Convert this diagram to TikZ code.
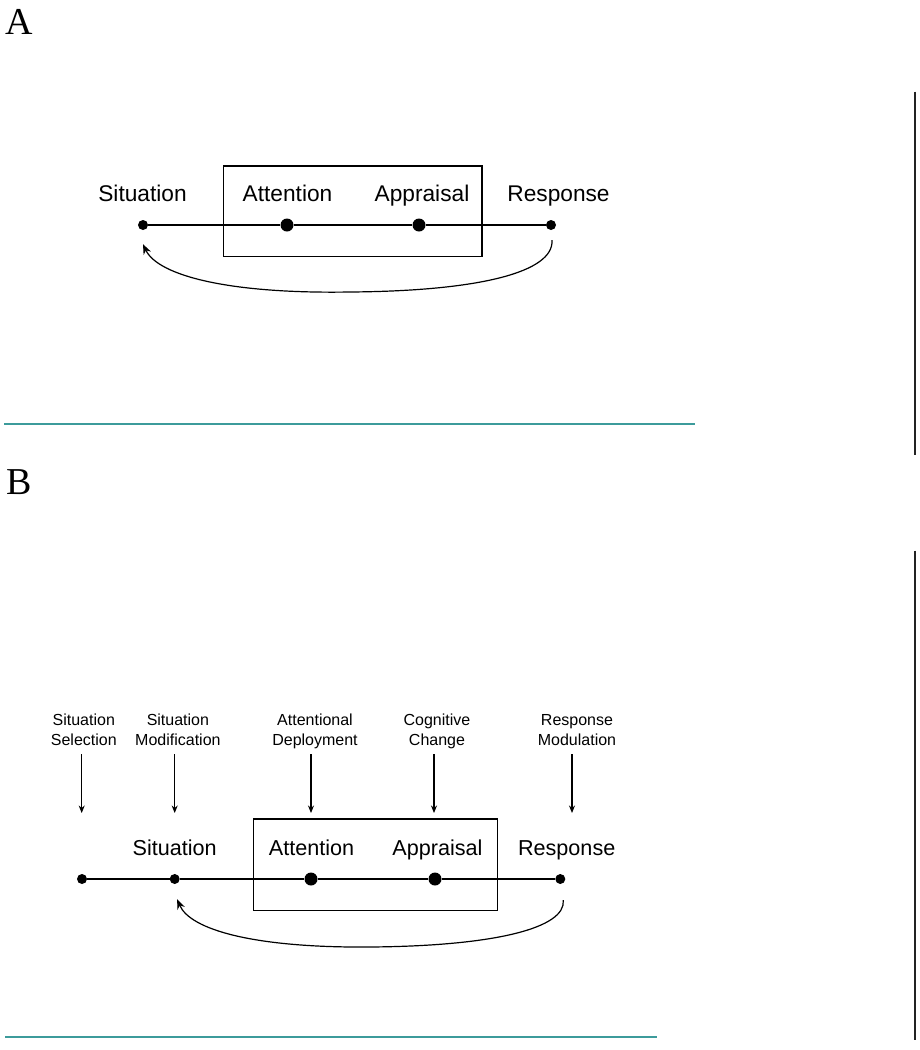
\documentclass[tikz,border=0pt]{standalone}
\usepackage{fontspec}
\setmainfont{Liberation Serif}
\newfontfamily\arialf{Liberation Sans}
\usetikzlibrary{arrows.meta}
\definecolor{tealln}{RGB}{60,155,155}
\definecolor{darkln}{RGB}{35,35,35}
\tikzset{
  dotS/.style={circle,fill=black,inner sep=0pt,minimum size=10pt},
  dotL/.style={circle,fill=black,inner sep=0pt,minimum size=13pt},
  lblA/.style={inner sep=0pt,anchor=base,font=\arialf\fontsize{22.7}{27}\selectfont},
  lblB/.style={inner sep=0pt,anchor=base,font=\arialf\fontsize{21.6}{26}\selectfont},
  lblT/.style={inner sep=0pt,anchor=base,align=center,font=\arialf\fontsize{16}{19.3}\selectfont},
  panel/.style={inner sep=0pt,anchor=base west,font=\fontsize{38}{40}\selectfont},
  mainline/.style={line width=1.5pt},
  boxln/.style={line width=1.2pt},
  fb/.style={line width=1.2pt,-{Stealth[length=10pt,width=8pt]}},
  downarr/.style={line width=1.1pt,-{Stealth[length=7.5pt,width=6pt]}},
  tealsep/.style={draw=tealln,line width=2pt},
  vsep/.style={draw=darkln,line width=2.2pt}
}
\begin{document}
\begin{tikzpicture}[x=1pt,y=-1pt]
\useasboundingbox (0,0) rectangle (919,1050);
% ---------------- Panel A ----------------
\node[panel] (labA) at (5,34.3) {A};
\draw[boxln] (223.3,166) rectangle (482,256.7);
\node[dotS] (sA) at (143,225) {};
\node[dotL] (aA) at (287,225) {};
\node[dotL] (pA) at (419,225) {};
\node[dotS] (rA) at (551,225) {};
\draw[mainline] (sA) -- (aA) -- (pA) -- (rA);
\node[lblA] (tsA) at (142.5,201.3) {Situation};
\node[lblA] (taA) at (287.5,201.3) {Attention};
\node[lblA] (tpA) at (422,201.3) {Appraisal};
\node[lblA] (trA) at (558.5,201.3) {Response};
\draw[fb] ([xshift=1pt,yshift=-10pt]rA.south) .. controls (554,272) and (480,291) .. (350,292)
   .. controls (230,294) and (158,276) .. ([yshift=-14pt]sA.south);
\coordinate (vAt) at (914.7,91.7);
\coordinate (vAb) at (914.7,455);
\draw[vsep] (vAt) -- (vAb);
\coordinate (hAl) at (4.3,424.3);
\coordinate (hAr) at (695,424.3);
\draw[tealsep] (hAl) -- (hAr);
% ---------------- Panel B ----------------
\node[panel] (labB) at (6,494) {B};
\draw[boxln] (253.3,819) rectangle (497.3,910.7);
\node[dotS] (s0B) at (82,879) {};
\node[dotS] (sB) at (174.7,879) {};
\node[dotL] (aB) at (311,879) {};
\node[dotL] (pB) at (435,879) {};
\node[dotS] (rB) at (560.3,879) {};
\draw[mainline] (s0B) -- (sB) -- (aB) -- (pB) -- (rB);
\node[lblB] (tsB) at (174.7,855.3) {Situation};
\node[lblB] (taB) at (311.5,855.3) {Attention};
\node[lblB] (tpB) at (437.5,855.3) {Appraisal};
\node[lblB] (trB) at (566.7,855.3) {Response};
\draw[fb] ([xshift=3pt,yshift=-16pt]rB.south) .. controls (566,928) and (495,946) .. (370,947)
   .. controls (255,948) and (190,930) .. ([xshift=2.5pt,yshift=-15pt]sB.south);
% strategy labels (base anchor = baseline of last line)
\node[lblT] (q1) at (83.8,745) {Situation\\Selection};
\node[lblT] (q2) at (177.9,745) {Situation\\Modification};
\node[lblT] (q3) at (315,745) {Attentional\\Deployment};
\node[lblT] (q4) at (437,745) {Cognitive\\Change};
\node[lblT] (q5) at (577,745) {Response\\Modulation};
\coordinate (d1t) at (81.7,754); \coordinate (d1b) at (81.7,813);
\coordinate (d2t) at (174.7,754); \coordinate (d2b) at (174.7,813);
\coordinate (d3t) at (311,754); \coordinate (d3b) at (311,813);
\coordinate (d4t) at (434,754); \coordinate (d4b) at (434,813);
\coordinate (d5t) at (572,754); \coordinate (d5b) at (572,813);
\foreach \i in {1,...,5}{\draw[downarr] (d\i t) -- (d\i b);}
\coordinate (vBt) at (914.7,550.7);
\coordinate (vBb) at (914.7,1040);
\draw[vsep] (vBt) -- (vBb);
\coordinate (hBl) at (5,1037);
\coordinate (hBr) at (657,1037);
\draw[tealsep] (hBl) -- (hBr);
\end{tikzpicture}
\end{document}
